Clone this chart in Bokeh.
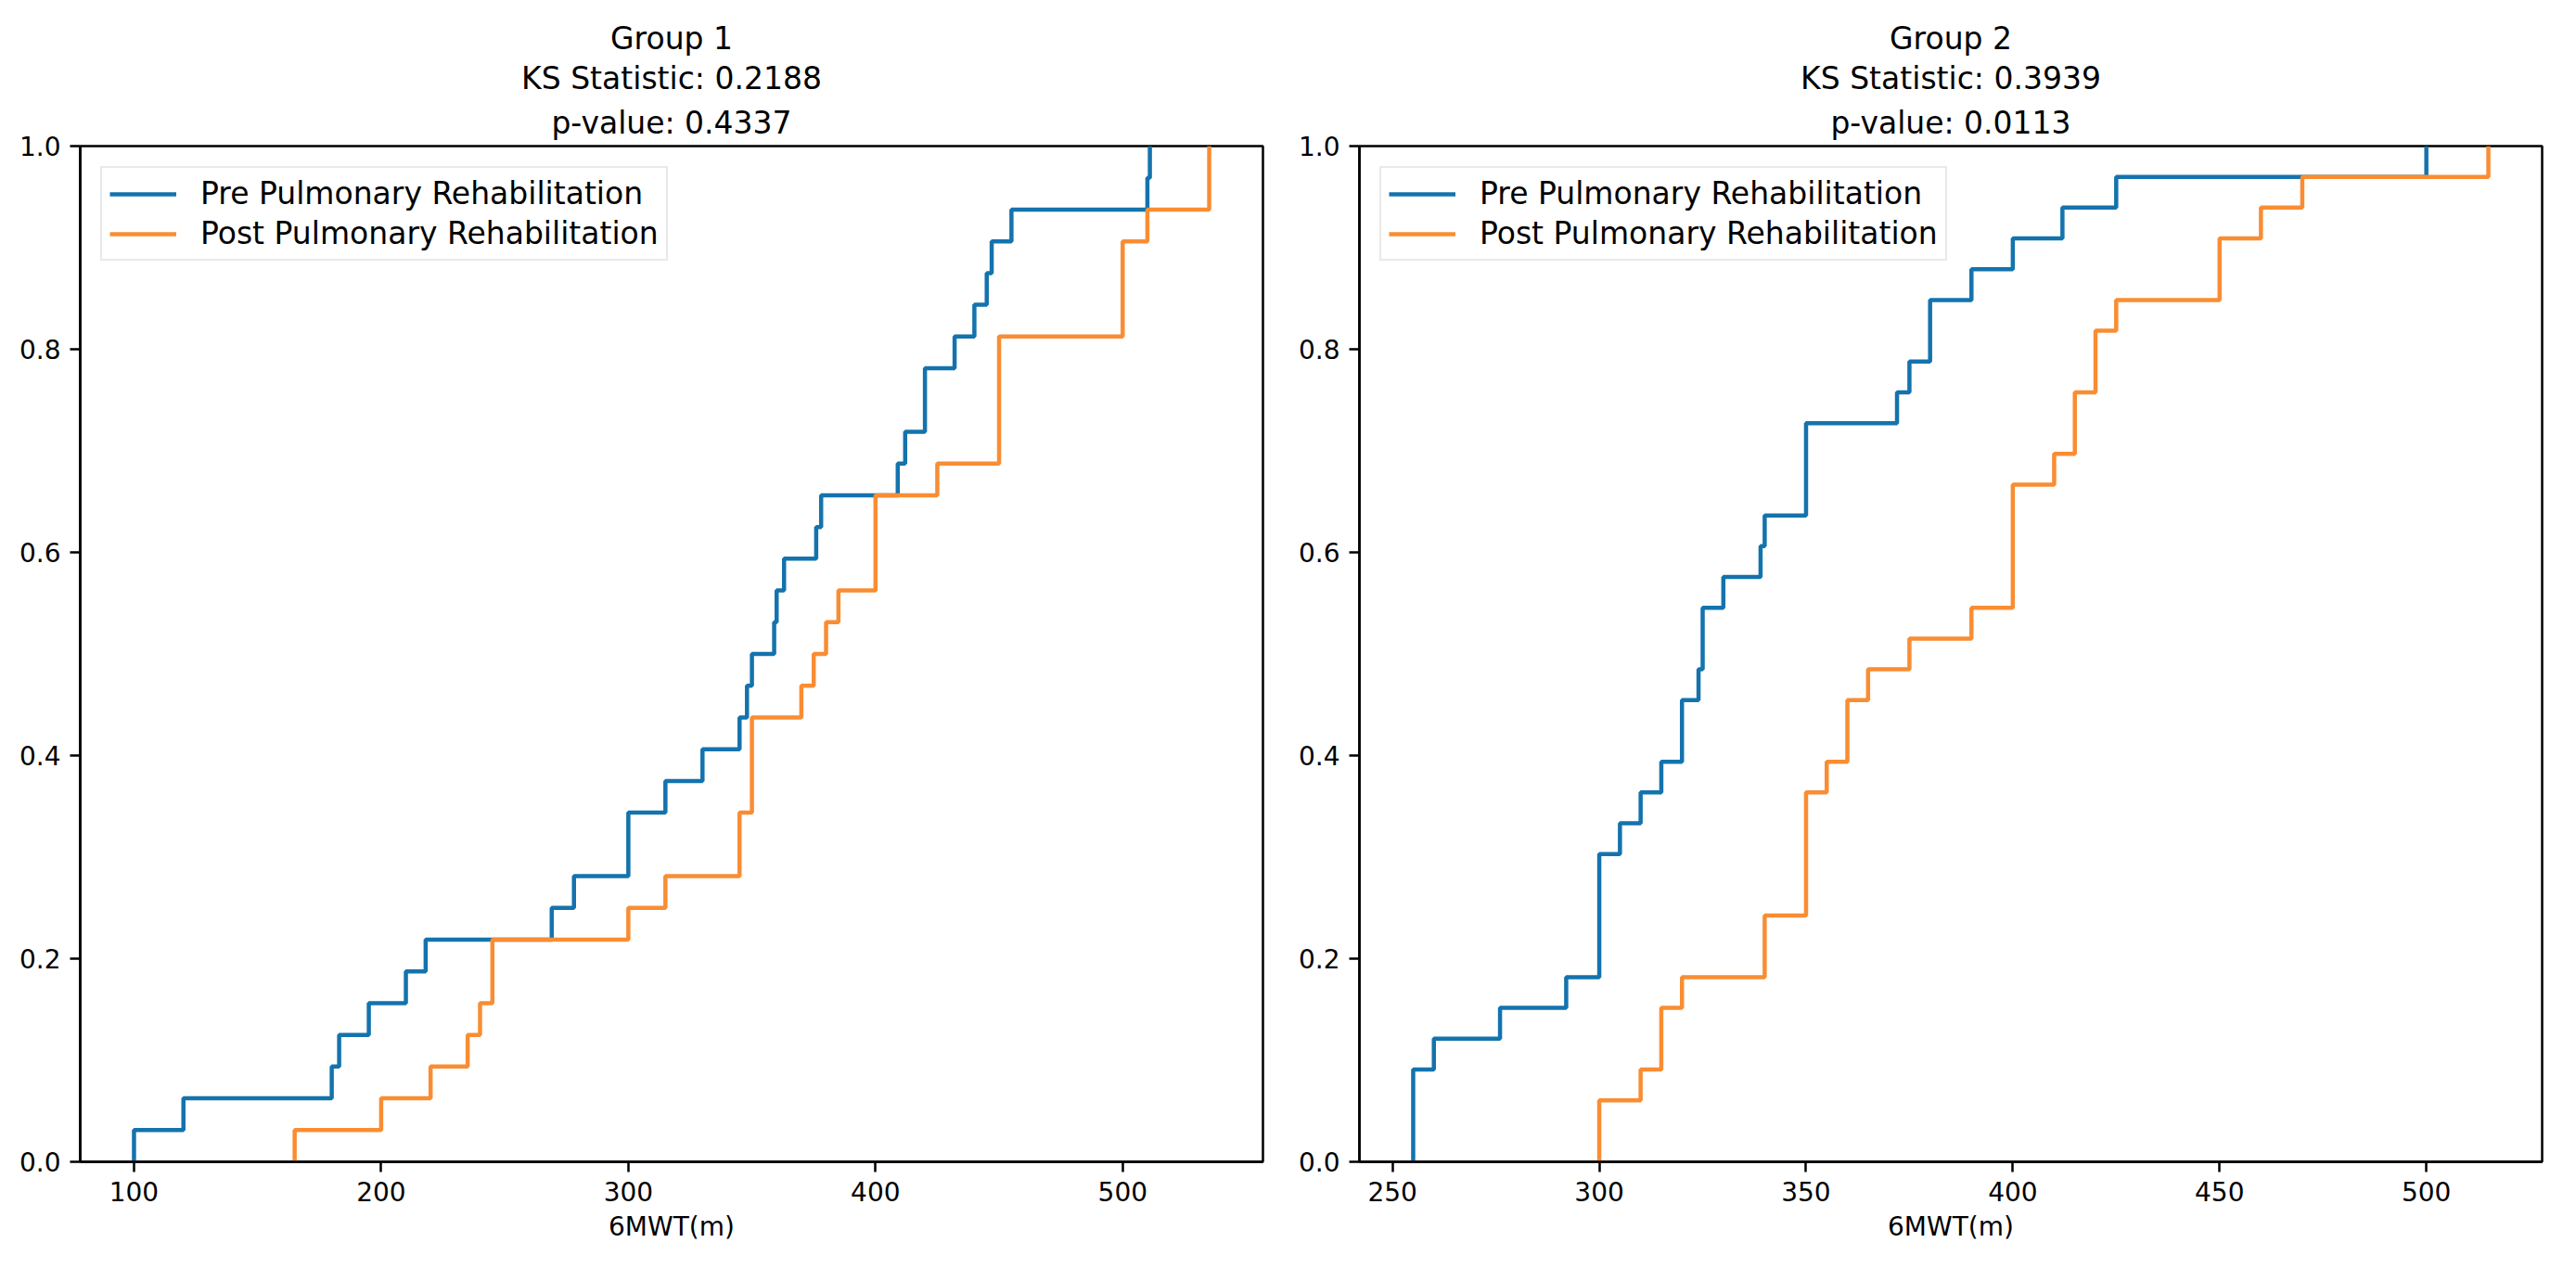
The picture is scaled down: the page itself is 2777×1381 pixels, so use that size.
from bokeh.plotting import figure
from bokeh.models import Range1d, FixedTicker, PrintfTickFormatter, Title
from bokeh.layouts import row
from bokeh.embed import file_html
from bokeh.resources import INLINE

# ---------------- data ----------------
group_names = ["Group 1", "Group 2"]
ks_stats = ["0.2188", "0.3939"]
p_values = ["0.4337", "0.0113"]
series_labels = ["Pre Pulmonary Rehabilitation", "Post Pulmonary Rehabilitation"]
x_label = "6MWT(m)"

# 6MWT values (m), read from the ECDF steps
g1_pre = [100, 120, 180, 183, 195, 210, 218, 269, 278, 300, 300, 315, 330, 345,
          348, 350, 359, 360, 363, 376, 378, 409, 412, 420, 420, 432, 440, 445,
          447, 455, 510, 511]
g1_post = [165, 200, 220, 235, 240, 245, 245, 300, 315, 345, 345, 350, 350, 350,
           370, 375, 380, 385, 400, 400, 400, 425, 450, 450, 450, 450, 500, 500,
           500, 510, 535, 535]
g2_pre = [255, 255, 255, 260, 276, 292, 300, 300, 300, 300, 305, 310, 315, 320,
          320, 324, 325, 325, 330, 339, 340, 350, 350, 350, 372, 375, 380, 380,
          390, 400, 412, 425, 500]
g2_post = [300, 300, 310, 315, 315, 320, 340, 340, 350, 350, 350, 350, 355, 360,
           360, 365, 375, 390, 400, 400, 400, 400, 410, 415, 415, 420, 420, 425,
           450, 450, 460, 470, 515]

g1_xticks = [100, 200, 300, 400, 500]
g2_xticks = [250, 300, 350, 400, 450, 500]
y_ticks = [0.0, 0.2, 0.4, 0.6, 0.8, 1.0]

# ---------------- style ----------------
FONT = "DejaVu Sans"
BLUE = "#1473ad"
ORANGE = "#f98d33"
TICK_FS = "28px"
LABEL_FS = "28px"
LEGEND_FS = "33px"
TITLE_FS = "33px"


def ecdf(vals):
    xs = sorted(vals)
    n = len(xs)
    x = [xs[0]] + xs
    y = [0.0] + [(i + 1) / n for i in range(n)]
    return x, y


def make_panel(name, ks, pv, pre, post, xticks, bl, br):
    allv = pre + post
    lo, hi = min(allv), max(allv)
    pad = 0.05 * (hi - lo)
    p = figure(frame_width=1275, frame_height=1095,
               x_range=Range1d(lo - pad, hi + pad), y_range=Range1d(0, 1),
               output_backend="svg", toolbar_location=None, title=None,
               min_border_left=bl, min_border_right=br,
               min_border_top=157, min_border_bottom=113,
               background_fill_color="white", border_fill_color="white")
    for txt, so in [("p-value: " + pv, 12), ("KS Statistic: " + ks, 2), (name, 2)]:
        p.add_layout(Title(text=txt, align="center", text_font=FONT,
                           text_font_size=TITLE_FS, text_font_style="normal",
                           text_color="black", standoff=so), "above")

    xp, yp = ecdf(pre)
    xq, yq = ecdf(post)
    p.step(xp, yp, mode="after", line_color=BLUE, line_width=4.5,
           legend_label=series_labels[0])
    p.step(xq, yq, mode="after", line_color=ORANGE, line_width=4.5,
           legend_label=series_labels[1])

    p.xgrid.grid_line_color = None
    p.ygrid.grid_line_color = None
    p.outline_line_color = "black"
    p.outline_line_width = 2.5

    for ax in (p.xaxis[0], p.yaxis[0]):
        ax.axis_line_color = "black"
        ax.axis_line_width = 2.5
        ax.major_tick_line_color = "black"
        ax.major_tick_line_width = 2.5
        ax.major_tick_out = 11
        ax.major_tick_in = 0
        ax.minor_tick_line_color = None
        ax.major_label_text_font = FONT
        ax.major_label_text_font_size = TICK_FS
        ax.major_label_text_color = "black"
        ax.major_label_standoff = 10
    p.xaxis.ticker = FixedTicker(ticks=xticks)
    p.yaxis.ticker = FixedTicker(ticks=y_ticks)
    p.yaxis.formatter = PrintfTickFormatter(format="%.1f")
    p.xaxis.axis_label = x_label
    p.xaxis.axis_label_text_font = FONT
    p.xaxis.axis_label_text_font_size = LABEL_FS
    p.xaxis.axis_label_text_font_style = "normal"
    p.xaxis.axis_label_text_color = "black"
    p.xaxis.axis_label_standoff = 8

    lg = p.legend[0]
    lg.location = "top_left"
    lg.margin = 22
    lg.padding = 8
    lg.spacing = 4
    lg.label_text_font = FONT
    lg.label_text_font_size = LEGEND_FS
    lg.label_text_color = "black"
    lg.label_height = 36
    lg.glyph_height = 36
    lg.glyph_width = 72
    lg.label_standoff = 26
    lg.border_line_color = "#d4d4d4"
    lg.border_line_width = 2
    lg.background_fill_color = "white"
    lg.background_fill_alpha = 0.8
    return p


p1 = make_panel(group_names[0], ks_stats[0], p_values[0], g1_pre, g1_post,
                g1_xticks, 86, 20)
p2 = make_panel(group_names[1], ks_stats[1], p_values[1], g2_pre, g2_post,
                g2_xticks, 84, 20)
layout = row(p1, p2)

open("out.html", "w").write(file_html(layout, INLINE))
